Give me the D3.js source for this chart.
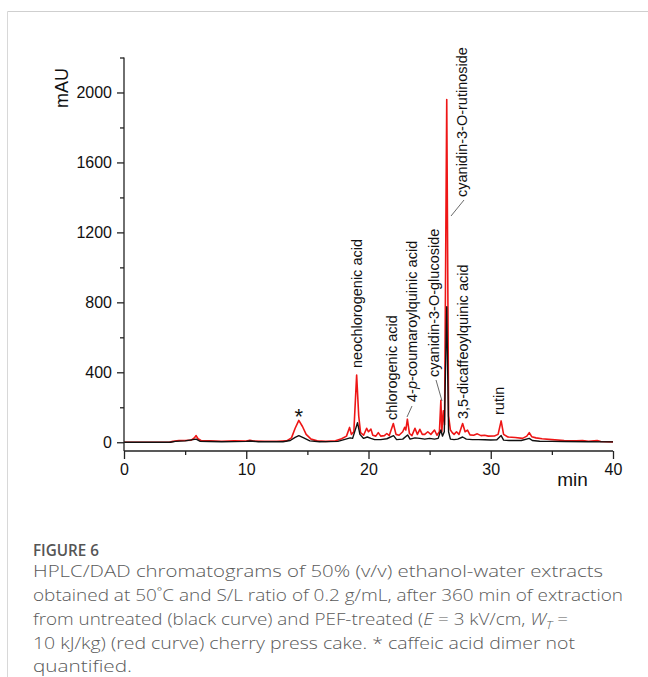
<!DOCTYPE html>
<html><head><meta charset="utf-8">
<script src="https://cdn.jsdelivr.net/npm/d3@7"></script>
<style>body{margin:0;background:#fff}</style>
</head><body>
<svg id="c" width="648" height="677"></svg>
<script>
// ---- data ----
const xTicks = [0, 10, 20, 30, 40];
const xMinorTicks = [5, 15, 25, 35];
const yTicks = [0, 400, 800, 1200, 1600, 2000];
const yMinorTicks = [200, 600, 1000, 1400, 1800, 2200];

// PEF-treated (red curve): [min, mAU]
const treated = [
  [0,0],[3.7,0],[4.0,5],[4.5,10],[5.0,10],[5.5,12],[5.75,25],[5.9,38],[6.05,20],[6.3,10],
  [7.0,8],[8.0,6],[9.0,8],[10.0,7],[10.3,12],[10.6,7],[11.5,6],[12.5,6],[13.3,8],[13.7,25],
  [14.0,80],[14.3,125],[14.6,90],[14.9,45],[15.3,18],[15.8,8],[16.5,5],[17.3,8],[17.8,20],[18.2,35],
  [18.45,85],[18.6,45],[18.8,60],[19.03,384],[19.2,150],[19.35,55],[19.6,40],[19.85,80],[20.0,60],[20.2,75],
  [20.35,40],[20.6,35],[20.8,55],[21.0,35],[21.3,38],[21.5,50],[21.7,38],[22.03,107],[22.25,45],[22.5,40],
  [22.8,60],[22.96,86],[23.05,70],[23.18,132],[23.35,50],[23.55,38],[23.8,80],[24.0,45],[24.2,74],[24.4,45],
  [24.6,45],[24.85,60],[25.1,45],[25.4,70],[25.6,40],[25.8,60],[25.92,240],[26.0,60],[26.12,180],[26.22,100],
  [26.4,1960],[26.55,150],[26.7,70],[26.85,55],[27.0,45],[27.2,60],[27.4,45],[27.7,107],[27.9,60],[28.1,69],
  [28.3,42],[28.6,40],[28.9,48],[29.2,38],[29.5,40],[29.8,35],[30.3,36],[30.6,45],[30.85,122],[31.05,45],
  [31.4,30],[32.0,27],[32.6,22],[32.95,35],[33.15,55],[33.35,32],[33.7,25],[34.2,20],[35.0,15],[36.0,10],
  [37.0,8],[37.5,10],[38.0,6],[38.7,10],[39.0,4],[40.0,2]
];
// untreated (black curve): [min, mAU]
const untreated = [
  [0,0],[3.8,0],[4.2,5],[5.0,8],[5.9,18],[6.2,6],[7.0,4],[8.0,3],[10.0,5],[10.3,7],
  [11.0,3],[13.0,3],[13.6,10],[14.0,28],[14.3,38],[14.7,25],[15.2,8],[16.0,3],[17.5,5],[18.0,15],
  [18.5,25],[18.7,22],[19.1,112],[19.3,45],[19.6,22],[19.9,30],[20.2,22],[20.5,15],[21.0,15],[21.5,20],
  [22.05,38],[22.3,15],[22.8,18],[23.2,42],[23.4,18],[23.8,25],[24.2,22],[24.6,18],[25.0,22],[25.4,18],
  [25.7,22],[25.92,70],[26.05,35],[26.2,60],[26.4,775],[26.55,60],[26.7,18],[27.0,15],[27.3,18],[27.7,30],
  [28.0,18],[28.5,15],[29.0,15],[29.5,14],[30.0,13],[30.5,14],[30.85,38],[31.05,12],[31.5,10],[32.5,10],
  [33.15,22],[33.4,10],[34.0,6],[35.0,5],[36.0,4],[38.0,3],[40.0,2]
];

const peakNames = ["neochlorogenic acid","chlorogenic acid","4-p-coumaroylquinic acid",
  "cyanidin-3-O-glucoside","cyanidin-3-O-rutinoside","3,5-dicaffeoylquinic acid","rutin"];

// ---- layout (pixels) ----
const labelLayout = [
  {cx:358, bottom:368},
  {cx:393, bottom:420},
  {cx:413, bottom:402, leader:[412,406,407,417]},
  {cx:435, bottom:377, leader:[436,380,442,401]},
  {cx:463, bottom:197, leader:[464,200,451,216]},
  {cx:464, bottom:419},
  {cx:500, bottom:415}
];

const svg = d3.select("#c");
const W = 648, H = 677;
svg.append("rect").attr("width", W).attr("height", H).attr("fill", "#fff");
// panel border
svg.append("line").attr("x1", 7.5).attr("x2", W).attr("y1", 11.5).attr("y2", 11.5).attr("stroke", "#cfcfcf").attr("stroke-width", 1.2);
svg.append("line").attr("x1", 7.5).attr("x2", 7.5).attr("y1", 11.5).attr("y2", H).attr("stroke", "#d8d8d8").attr("stroke-width", 1);

const x = d3.scaleLinear().domain([0, 40]).range([124, 613]);
const y = d3.scaleLinear().domain([-50, 2200]).range([451, 57.5]);
const axisFont = "'Liberation Sans', Arial, sans-serif";

// curves
const line = d3.line().x(d => x(d[0])).y(d => y(d[1]));
svg.append("path").datum(treated).attr("d", line).attr("fill", "none")
  .attr("stroke", "#ee1616").attr("stroke-width", 1.6).attr("stroke-linejoin", "round");
svg.append("path").datum(untreated).attr("d", line).attr("fill", "none")
  .attr("stroke", "#111").attr("stroke-width", 1.4).attr("stroke-linejoin", "round");

// x axis
const gx = svg.append("g").attr("transform", `translate(0,${y(-50)})`);
gx.call(d3.axisBottom(x).tickValues(xTicks).tickSize(8).tickPadding(5).tickFormat(d3.format("d")));
gx.append("g").call(d3.axisBottom(x).tickValues(xMinorTicks).tickSize(4).tickFormat(""))
  .select(".domain").remove();
gx.selectAll(".domain").attr("d", `M${x(0)},0H${x(40)}`);
// y axis
const gy = svg.append("g").attr("transform", `translate(${x(0)},0)`);
gy.call(d3.axisLeft(y).tickValues(yTicks).tickSize(7).tickPadding(5).tickFormat(d3.format("d")));
gy.append("g").call(d3.axisLeft(y).tickValues(yMinorTicks).tickSize(4).tickFormat(""))
  .select(".domain").remove();
gy.selectAll(".domain").attr("d", `M0,${y(2200)}V${y(-50)}`);
svg.selectAll(".tick text").attr("font-family", axisFont).attr("font-size", 16).attr("fill", "#111");
svg.selectAll(".domain, .tick line").attr("stroke", "#222").attr("stroke-width", 1.3);

// axis titles
svg.append("text").attr("transform", "translate(68,88) rotate(-90)").attr("text-anchor", "middle")
  .attr("font-family", axisFont).attr("font-size", 18).attr("fill", "#111").text("mAU");
svg.append("text").attr("x", 572.5).attr("y", 486).attr("text-anchor", "middle")
  .attr("font-family", axisFont).attr("font-size", 19).attr("fill", "#111").text("min");

// peak labels
peakNames.forEach((name, i) => {
  const L = labelLayout[i];
  const t = svg.append("text")
    .attr("transform", `translate(${L.cx + 4},${L.bottom}) rotate(-90)`)
    .attr("font-family", axisFont).attr("font-size", 14.5).attr("fill", "#111");
  if (name.startsWith("4-p-")) {
    t.append("tspan").text("4-");
    t.append("tspan").attr("font-style", "italic").text("p");
    t.append("tspan").text(name.slice(3));
  } else t.text(name);
  if (L.leader) {
    svg.append("line").attr("x1", L.leader[0]).attr("y1", L.leader[1]).attr("x2", L.leader[2]).attr("y2", L.leader[3])
      .attr("stroke", "#444").attr("stroke-width", 0.8);
  }
});
svg.append("text").attr("x", x(14.3)).attr("y", 424).attr("text-anchor", "middle")
  .attr("font-family", axisFont).attr("font-size", 22).attr("fill", "#111").text("*");

// caption
const capFont = "'Open Sans', 'Noto Sans', sans-serif";
svg.append("text").attr("x", 33).attr("y", 556).attr("font-family", capFont).attr("font-size", 17)
  .attr("font-weight", 600).attr("fill", "#555").attr("textLength", 66).attr("lengthAdjust", "spacingAndGlyphs").text("FIGURE 6");
const capLines = [
  {y:577, w:570, parts:[["HPLC/DAD chromatograms of 50% (v/v) ethanol-water extracts"]]},
  {y:601, w:590, parts:[["obtained at 50˚C and S/L ratio of 0.2 g/mL, after 360 min of extraction"]]},
  {y:625, w:535, parts:[["from untreated (black curve) and PEF-treated ("],["E","i"],[" = 3 kV/cm, "],["W","i"],["T","s"],[" ="]]},
  {y:649, w:542, parts:[["10 kJ/kg) (red curve) cherry press cake. * caffeic acid dimer not"]]},
  {y:672, w:99, parts:[["quantified."]]}
];
capLines.forEach(L => {
  const t = svg.append("text").attr("x", 33).attr("y", L.y).attr("font-family", capFont)
    .attr("font-size", 16).attr("font-weight", 300).attr("fill", "#5a5a5a")
    .attr("textLength", L.w).attr("lengthAdjust", "spacingAndGlyphs");
  L.parts.forEach(p => {
    const s = t.append("tspan").text(p[0]);
    if (p[1] === "i") s.attr("font-style", "italic");
    if (p[1] === "s") s.attr("font-style", "italic").attr("font-size", 11).attr("dy", 4);
    if (p[1] === undefined && L.parts.length > 1 && p[0] === " =") s.attr("dy", -4);
  });
});
</script>
</body></html>
